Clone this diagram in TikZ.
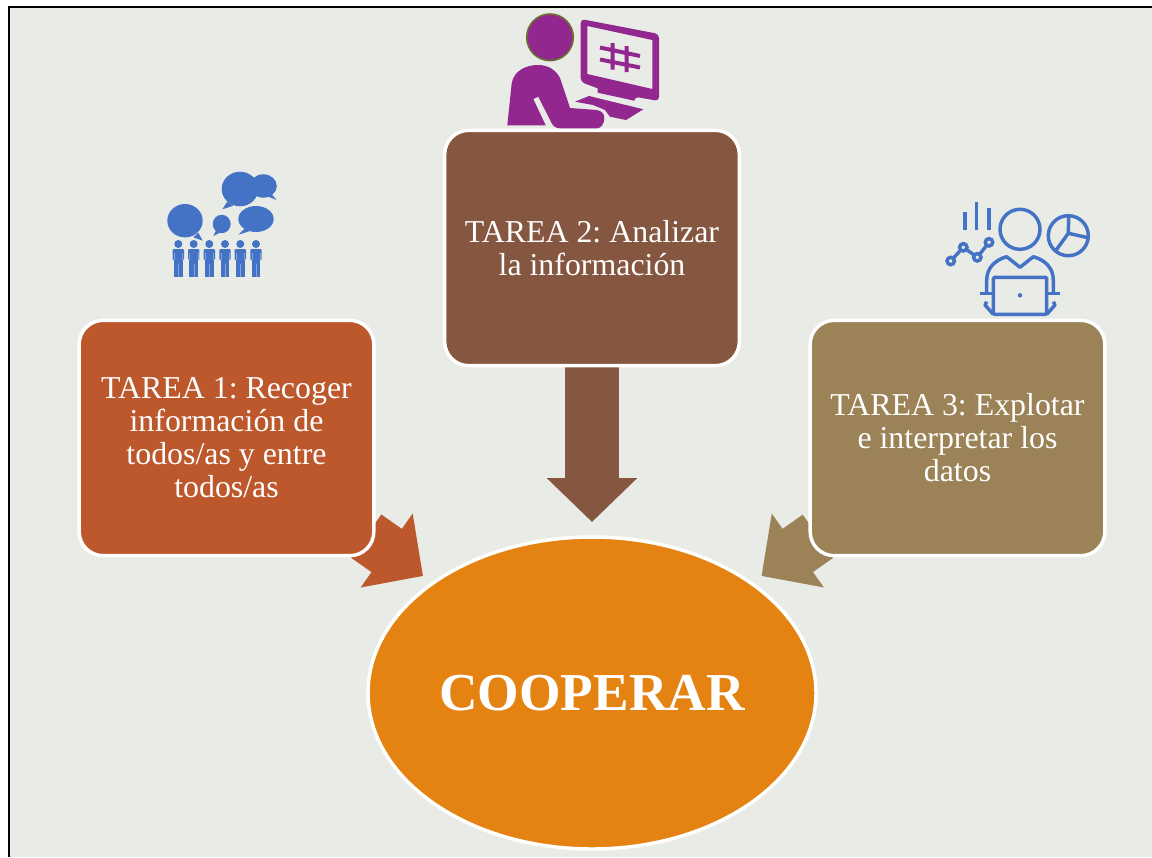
\documentclass[tikz,border=0pt]{standalone}
\usepackage{fontspec}
\setmainfont{Liberation Serif}
\usepackage{xcolor}
\usetikzlibrary{
  arrows.meta,
  shapes.geometric,
  backgrounds
}
\definecolor{slidecolor}{HTML}{E9EBE6}
\definecolor{rustcolor}{HTML}{BD582C}
\definecolor{browncolor}{HTML}{855640}
\definecolor{sandcolor}{HTML}{9B8357}
\definecolor{orangecolor}{HTML}{E48312}
\definecolor{purplecolor}{HTML}{92278F}
\definecolor{olivecolor}{HTML}{6B6F2E}
\definecolor{iconblue}{HTML}{4472C4}

\begin{document}
\begin{tikzpicture}[
  x=0.75pt, y=-0.75pt,
  taskbox/.style={draw=white, line width=2.6pt, rounded corners=18pt,
                  minimum width=221pt, minimum height=176.5pt, align=center,
                  text=white, font=\frenchspacing\fontsize{23.9}{24.75}\selectfont},
  mainbox/.style={draw=white, line width=2.6pt, ellipse, fill=orangecolor, inner sep=0pt,
                  minimum width=336pt, minimum height=234pt, text=white,
                  font=\fontsize{40}{44}\selectfont\bfseries},
  sidearrow/.style={line width=39.6pt, -{Triangle[length=33.3pt,width=65.8pt]}},
  downarrow/.style={line width=40.5pt, -{Triangle[length=33pt,width=66pt]}},
  lineicon/.style={draw=iconblue, line width=2.6pt},
  bubble/.style={fill=iconblue}
]
  \useasboundingbox (0,0) rectangle (1152,857);

  % Boxes and ellipse
  \node[taskbox, fill=rustcolor] (task1) at (226.5,438)
    {TAREA 1: Recoger\\información de\\todos/as y entre\\todos/as};
  \node[taskbox, fill=browncolor] (task2) at (592,248)
    {TAREA 2: Analizar\\la información};
  \node[taskbox, fill=sandcolor] (task3) at (957.5,438)
    {TAREA 3: Explotar\\e interpretar los\\datos};
  \node[mainbox] (cooperar) at (592,693) {COOPERAR};

  \coordinate (tip1) at (423,576);
  \coordinate (tip2) at (592,522);
  \coordinate (tip3) at (761.5,576);

  % Slide and arrows stay behind the boxes
  \begin{scope}[on background layer]
    \fill[slidecolor] (9,7) rectangle (1152,857);
    \draw[black, line width=2.2pt] (9,857) -- (9,7) -- (1152,7);
    \draw[sidearrow, rustcolor, shorten <=128pt] (task1.center) -- (tip1);
    \draw[downarrow, browncolor] (task2.center) -- (tip2);
    \draw[sidearrow, sandcolor, shorten <=128pt] (task3.center) -- (tip3);
  \end{scope}

  % Person at the screen
  \fill[purplecolor, draw=olivecolor, line width=1.2pt] (550,37.3) circle (23.3);
  \fill[purplecolor] (507.3,125.3) -- (511.7,83.3)
    .. controls (514,70) and (527,65) .. (538,65)
    .. controls (548,65) and (556,70) .. (560,78)
    -- (570,108) -- (596.7,110)
    .. controls (602,111) and (604.3,114) .. (604.3,118.3)
    .. controls (604.3,124) and (601,128.3) .. (596.7,128.3)
    -- (560,128.3) .. controls (556,128.3) and (553,126) .. (551.7,123.3)
    -- (538.3,96.7) -- (533.3,99) -- (545.7,125.3) -- cycle;
  \fill[purplecolor, even odd rule] [rounded corners=3pt]
    (580.7,19) -- (659,34) -- (659,101) -- (634.3,96.7) [sharp corners] -- (634.3,100.7)
    -- (597.7,92.7) -- (597.7,88.3) [rounded corners=3pt] -- (580.7,82) -- cycle
    [sharp corners] (587.3,26) -- (652.3,40) -- (652.3,89) -- (587.3,74) -- cycle;
  \draw[purplecolor, line width=3pt]
    (600,47.5) -- (640,56) (600,59.5) -- (640,67.5)
    (612.7,43) -- (612.7,69.5) (626.7,46) -- (626.7,72);
  \fill[purplecolor] (575,101.7) -- (589,96) -- (643.3,109.3) -- (626,120)
    -- (610,116.7) -- (605,110) -- (593,105) -- cycle;

  % Group talking
  \fill[bubble] (185,220.7) ellipse [x radius=17.7, y radius=16.7];
  \fill[bubble] (198.3,232.7) -- (202.7,240.7) -- (193.3,237.3) -- cycle;
  \fill[bubble] (221.7,224) ellipse [x radius=9, y radius=9.2];
  \fill[bubble] (216,230.7) -- (213.3,236) -- (220,232.7) -- cycle;
  \fill[bubble] (263.3,186) ellipse [x radius=13.5, y radius=11.7];
  \fill[bubble] (270.7,193.3) -- (276.7,200) -- (268.3,196.7) -- cycle;
  \fill[bubble] (240,189) ellipse [x radius=18.3, y radius=17.3];
  \fill[bubble] (227.3,201.7) -- (222.3,209.3) -- (233.3,205.7) -- cycle;
  \fill[bubble] (256,219) ellipse [x radius=17.7, y radius=13];
  \fill[bubble] (245,228.3) -- (238.3,234.7) -- (249.3,231.3) -- cycle;
  \foreach \px in {178.3,193.7,209.3,225,240.3,256} {
    \fill[bubble] (\px,244) circle (4);
    \fill[bubble, rounded corners=0.8pt] (\px-5.7,249) rectangle (\px+5.7,260);
    \fill[bubble] (\px-4.3,249) rectangle (\px+4.3,276.7);
    \draw[white!35!iconblue, line width=0.3pt]
      (\px-4.3,253) -- (\px-4.3,260) (\px+4.3,253) -- (\px+4.3,260) (\px,264) -- (\px,276.7);
  }

  % Analyst with laptop
  \draw[lineicon] (1020,229.3) circle (20);
  \draw[lineicon] (1068.3,235.7) circle (20);
  \draw[lineicon] (1068.7,216) -- (1068.3,233.3) -- (1088,237.7)
    (1068.3,233.3) -- (1055,251.7);
  \draw[lineicon] (965,211.7) -- (965,230) (976.7,201.7) -- (976.7,230) (989,208.3) -- (989,230);
  \draw[lineicon] (950.7,261) -- (963.3,247.3) -- (977.3,257.3) -- (989,242.3);
  \foreach \cx/\cy in {950.7/261, 963.3/247.3, 977.3/257.3, 989/242.3} {
    \draw[lineicon, fill=slidecolor] (\cx,\cy) circle (3.7);
  }
  \draw[lineicon, line join=round] (986.7,293.3) -- (986.7,280)
    .. controls (986.7,268) and (995,260) .. (1006.7,256.7)
    -- (1020,267.3) -- (1033.3,256.7)
    .. controls (1045,260) and (1053.3,268) .. (1053.3,280) -- (1053.3,293.3);
  \draw[lineicon] (980,293.3) -- (1060,293.3);
  \draw[lineicon, fill=slidecolor, rounded corners=1pt] (993.3,277.3) rectangle (1046.7,314.3);
  \fill[iconblue] (1020,295.3) circle (2.2);
  \draw[lineicon, line join=round] (986.7,301.7) -- (985,305) -- (993.3,314.3)
    (1053.3,301.7) -- (1055,305) -- (1046.7,314.3);
\end{tikzpicture}
\end{document}
